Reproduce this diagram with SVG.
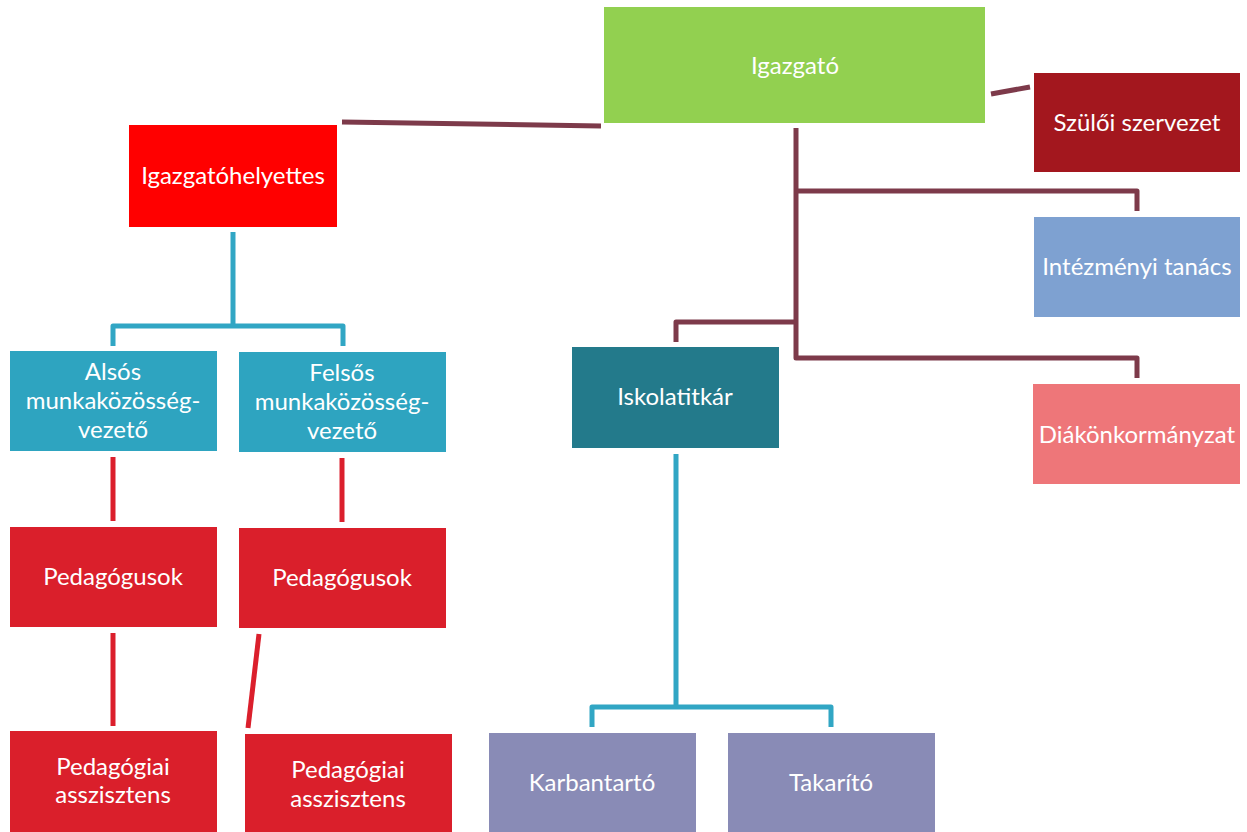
<svg xmlns="http://www.w3.org/2000/svg" width="1247" height="832" viewBox="0 0 1247 832">
<style>
text{font-family:Lato,"Open Sans",sans-serif;font-size:24px;fill:#ffffff;text-anchor:middle}
.c{fill:none;stroke-width:5;stroke-linejoin:round}
.m{stroke:#7d3a4a}
.b{stroke:#31a6c4}
.r{stroke:#db1f2c}
</style>
<rect width="1247" height="832" fill="#ffffff"/>
<g id="connectors">
<path class="c m" d="M342,122 L601,126"/>
<path class="c m" d="M991,94 L1030,87"/>
<path class="c m" d="M796,128 L796,358 L1137,358 L1137,378"/>
<path class="c m" d="M796,191 L1137,191 L1137,211"/>
<path class="c m" d="M796,322 L676,322 L676,342"/>
<path class="c b" d="M233,232 L233,326"/>
<path class="c b" d="M113,346 L113,326 L343,326 L343,346"/>
<path class="c r" d="M113,457 L113,521"/>
<path class="c r" d="M342,458 L342,522"/>
<path class="c r" d="M113,633 L113,726"/>
<path class="c r" d="M259,634 L248,728"/>
<path class="c b" d="M676,454 L676,707"/>
<path class="c b" d="M592,727 L592,707 L831,707 L831,727"/>
</g>
<g id="igazgato"><rect x="604" y="7" width="381" height="116" fill="#92d050"/><text x="795" y="74">Igazgató</text></g>
<g id="szuloi"><rect x="1034" y="73" width="206" height="99" fill="#a3171e"/><text x="1137" y="131">Szülői szervezet</text></g>
<g id="helyettes"><rect x="129" y="125" width="208" height="102" fill="#ff0000"/><text x="233" y="184">Igazgatóhelyettes</text></g>
<g id="intezmenyi"><rect x="1034" y="217" width="206" height="100" fill="#7ea1d1"/><text x="1137" y="275">Intézményi tanács</text></g>
<g id="diak"><rect x="1033" y="384" width="207" height="100" fill="#ee7679"/><text x="1137" y="443">Diákönkormányzat</text></g>
<g id="iskolatitkar"><rect x="572" y="347" width="207" height="101" fill="#237a8b"/><text x="675" y="405">Iskolatitkár</text></g>
<g id="alsos"><rect x="10" y="351" width="207" height="100" fill="#2ea4c0"/><text x="113" y="380">Alsós</text><text x="113" y="409">munkaközösség-</text><text x="113" y="438">vezető</text></g>
<g id="felsos"><rect x="239" y="352" width="207" height="100" fill="#2ea4c0"/><text x="342" y="381">Felsős</text><text x="342" y="410">munkaközösség-</text><text x="342" y="439">vezető</text></g>
<g id="ped1"><rect x="10" y="527" width="207" height="100" fill="#da1f2b"/><text x="113" y="585">Pedagógusok</text></g>
<g id="ped2"><rect x="239" y="528" width="207" height="100" fill="#da1f2b"/><text x="342" y="586">Pedagógusok</text></g>
<g id="asszisztens1"><rect x="10" y="731" width="207" height="101" fill="#da1f2b"/><text x="113" y="775">Pedagógiai</text><text x="113" y="803">asszisztens</text></g>
<g id="asszisztens2"><rect x="245" y="734" width="207" height="98" fill="#da1f2b"/><text x="348" y="778">Pedagógiai</text><text x="348" y="807">asszisztens</text></g>
<g id="karbantarto"><rect x="489" y="733" width="207" height="99" fill="#898bb6"/><text x="592" y="791">Karbantartó</text></g>
<g id="takarito"><rect x="728" y="733" width="207" height="99" fill="#898bb6"/><text x="831" y="791">Takarító</text></g>
</svg>
